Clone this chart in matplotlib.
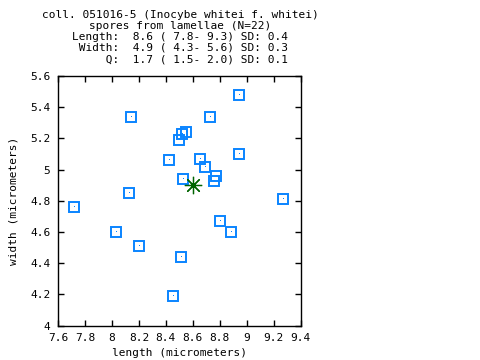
import matplotlib
matplotlib.use("Agg")
import matplotlib.pyplot as plt

length = [7.72, 8.03, 8.13, 8.20, 8.14, 8.45, 8.51, 8.42, 8.50, 8.52, 8.55,
          8.53, 8.65, 8.69, 8.73, 8.77, 8.76, 8.94, 8.94, 8.80, 8.88, 9.27]
width = [4.76, 4.60, 4.85, 4.51, 5.34, 4.19, 4.44, 5.06, 5.19, 5.23, 5.24,
         4.94, 5.07, 5.02, 5.34, 4.96, 4.93, 5.48, 5.10, 4.67, 4.60, 4.81]
mean_length = [8.6]
mean_width = [4.9]

title_lines = [
    "coll. 051016-5 (Inocybe whitei f. whitei)",
    "spores from lamellae (N=22)",
    "Length:  8.6 ( 7.8- 9.3) SD: 0.4",
    " Width:  4.9 ( 4.3- 5.6) SD: 0.3",
    "     Q:  1.7 ( 1.5- 2.0) SD: 0.1",
]
xticks = [7.6, 7.8, 8, 8.2, 8.4, 8.6, 8.8, 9, 9.2, 9.4]
yticks = [4, 4.2, 4.4, 4.6, 4.8, 5, 5.2, 5.4, 5.6]

plt.rcParams['font.family'] = ['DejaVu Sans Mono']
plt.rcParams['font.size'] = 8

fig = plt.figure(figsize=(4.8, 3.6), dpi=100)
ax = fig.add_axes([0.1208, 0.0953, 0.5057, 0.6936])

blue = '#0a84ff'
ax.plot(length, width, 's', ls='none', markersize=7.3, markerfacecolor='none',
        markeredgecolor=blue, markeredgewidth=1.4)
ax.plot(length, width, ',', ls='none', color=blue)
ax.plot(mean_length, mean_width, marker=(8, 2, 0), ls='none', markersize=12.5,
        color='#006400', markeredgewidth=0.9)
ax.plot(mean_length, mean_width, 'o', ls='none', markersize=2.5, color='#006400')

ax.set_xlim(7.6, 9.4)
ax.set_ylim(4, 5.6)
ax.set_xticks(xticks)
ax.set_xticklabels([f"{t:g}" for t in xticks])
ax.set_yticks(yticks)
ax.set_yticklabels([f"{t:g}" for t in yticks])
ax.tick_params(direction='in', length=4.3, width=1, top=True, right=True)
ax.tick_params(axis='y', pad=5.5)
ax.tick_params(axis='x', pad=5)
for s in ax.spines.values():
    s.set_linewidth(1)

ax.set_xlabel("length (micrometers)", labelpad=4)
ax.set_ylabel("width (micrometers)", labelpad=8)

ys = [15, 26, 37, 48, 59]
for line, y in zip(title_lines, ys):
    fig.text(180 / 480, 1 - y / 360, line, ha='center', va='center', fontsize=8)

fig.savefig("out.png", dpi=100)
